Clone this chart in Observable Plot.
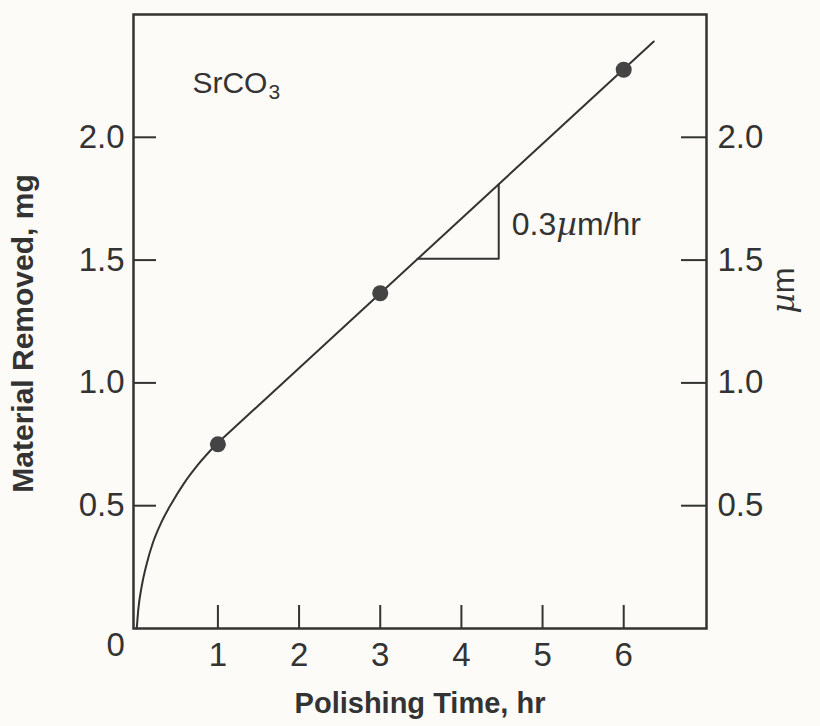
<!DOCTYPE html>
<html><head><meta charset="utf-8">
<script src="https://cdn.jsdelivr.net/npm/d3@7"></script>
<script src="https://cdn.jsdelivr.net/npm/@observablehq/plot@0.6"></script>
<style>
html,body{margin:0;padding:0;background:#fcfbf7;}
</style></head><body><div id="chart"></div>
<script>
// measured points
const times = [1, 3, 6];
const removedMg = [0.75, 1.365, 2.275];
// initial curved run-in (hand drawn curve)
const curveTime = [0, 0.02, 0.06, 0.12, 0.20, 0.30, 0.43, 0.58, 0.75, 0.98];
const curveMg = [0, 0.08, 0.17, 0.26, 0.35, 0.43, 0.51, 0.59, 0.665, 0.75];
// linear fit
const fitTime = [0.98, 6.37];
const fitMg = [0.75, 2.39];
// slope triangle
const slopeTime = [3.46, 4.46, 4.46];
const slopeMg = [1.505, 1.505, 1.808];
// ticks
const xTicks = [1, 2, 3, 4, 5, 6];
const yTicks = [0.5, 1.0, 1.5, 2.0];
const umTicks = [0.5, 1.0, 1.5, 2.0];
// texts
const xTitle = "Polishing Time, hr";
const yTitle = "Material Removed, mg";
const y2Title = "µm";
const compound = "SrCO";
const compoundSub = "3";
const compoundAt = {t: 0.686, m: 2.22};
const slopeLabel = "0.3µm/hr";
const slopeLabelAt = {t: 4.62, m: 1.645};
const originLabel = "0";

const ink = "#333";
const font = "Liberation Sans, Arial, sans-serif";
const W = 820, H = 726;
const mL = 133, mR = 114, mT = 14, mB = 98;
const fw = W - mL - mR, fh = H - mT - mB;
const tickFont = 33;

const zip = (a, b) => a.map((v, i) => ({t: v, m: b[i]}));

const chart = Plot.plot({
  width: W, height: H,
  marginLeft: mL, marginRight: mR, marginTop: mT, marginBottom: mB,
  style: {background: "#fcfbf7", color: ink, fontFamily: font},
  x: {domain: [-0.04, 7.02]},
  y: {domain: [0, 2.5]},
  marks: [
    Plot.frame({stroke: ink, strokeWidth: 2.5}),
    Plot.tickX(xTicks, {x: d => d, insetTop: fh - 23, stroke: ink, strokeWidth: 2}),
    Plot.tickY(yTicks, {y: d => d, insetRight: fw - 23, stroke: ink, strokeWidth: 2}),
    Plot.tickY(umTicks, {y: d => d, insetLeft: fw - 25, stroke: ink, strokeWidth: 2}),
    Plot.axisX(xTicks, {anchor: "bottom", tickSize: 0, tickPadding: 14, fontSize: tickFont, label: null, fill: ink, tickFormat: d => String(d)}),
    Plot.axisY(yTicks, {anchor: "left", tickSize: 0, tickPadding: 9, fontSize: tickFont, label: null, fill: ink, tickFormat: d => d.toFixed(1)}),
    Plot.axisY(umTicks, {anchor: "right", tickSize: 0, tickPadding: 11, fontSize: tickFont, label: null, fill: ink, tickFormat: d => d.toFixed(1)}),
    Plot.text([originLabel], {x: 0, y: 0, dx: -21, dy: 17, fontSize: tickFont, fill: ink}),
    Plot.line(zip(curveTime, curveMg), {x: "t", y: "m", curve: "monotone-x", stroke: ink, strokeWidth: 2}),
    Plot.line(zip(fitTime, fitMg), {x: "t", y: "m", stroke: ink, strokeWidth: 2}),
    Plot.line(zip(slopeTime, slopeMg), {x: "t", y: "m", stroke: ink, strokeWidth: 2}),
    Plot.dot(zip(times, removedMg), {x: "t", y: "m", r: 8, fill: "#444", stroke: "none"}),
    Plot.text([compoundAt], {x: "t", y: "m", text: () => compound, textAnchor: "start", fontSize: 30, fill: ink}),
    Plot.text([compoundAt], {x: "t", y: "m", text: () => compoundSub, textAnchor: "start", dx: 76, dy: 9, fontSize: 21, fill: ink}),
    Plot.text([slopeLabelAt], {x: "t", y: "m", text: () => slopeLabel, textAnchor: "start", fontSize: 32, fill: ink}),
    Plot.text([xTitle], {frameAnchor: "bottom", textAnchor: "middle", dy: 84, fontSize: 29, fontWeight: "bold", fill: ink}),
    Plot.text([yTitle], {frameAnchor: "left", textAnchor: "middle", dx: -110, dy: 12, rotate: -90, fontSize: 30, fontWeight: "bold", fill: ink}),
    Plot.text([y2Title], {frameAnchor: "right", textAnchor: "middle", dx: 78, dy: -31, rotate: -90, fontSize: 31, fill: ink})
  ]
});
document.getElementById("chart").appendChild(chart);

// italic Greek mu, as in the original lettering
d3.select(chart).selectAll("text").each(function() {
  const t = this.textContent;
  if (t.includes("µ") && this.children.length === 0) {
    const parts = t.split("µ");
    const sel = d3.select(this);
    sel.text(null);
    sel.append("tspan").text(parts[0]);
    sel.append("tspan").attr("font-style", "italic").attr("font-family", "DejaVu Serif, serif").text("µ");
    sel.append("tspan").text(parts[1]);
  }
});
</script>
</body></html>
